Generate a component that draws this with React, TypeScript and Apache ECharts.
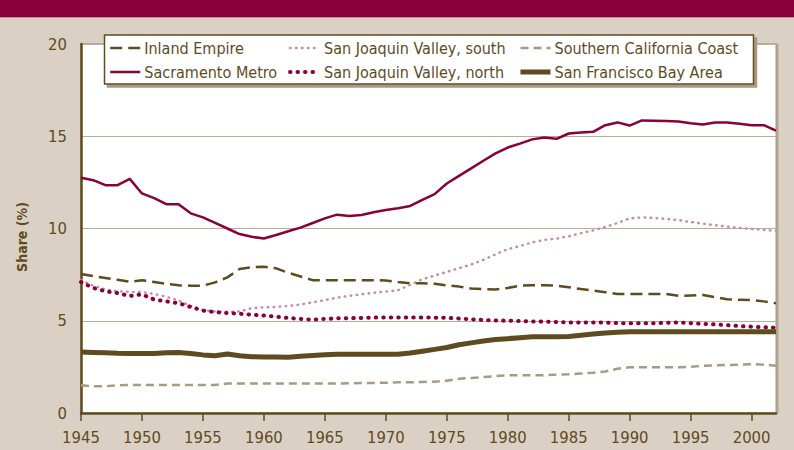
import React, { useEffect, useRef } from "react";
import * as echarts from "echarts";

const years: string[] = [];
for (let y = 1945; y <= 2002; y++) years.push(String(y));

const inlandEmpire = [7.53, 7.42, 7.32, 7.22, 7.11, 7.2, 7.1, 7.0, 6.92, 6.9, 6.9, 7.08, 7.35, 7.8, 7.9, 7.93, 7.84, 7.6, 7.4, 7.2, 7.2, 7.2, 7.2, 7.2, 7.2, 7.18, 7.1, 7.03, 7.03, 7.0, 6.92, 6.85, 6.75, 6.72, 6.7, 6.78, 6.9, 6.92, 6.93, 6.9, 6.82, 6.72, 6.63, 6.55, 6.45, 6.45, 6.45, 6.45, 6.45, 6.35, 6.37, 6.39, 6.28, 6.16, 6.14, 6.12, 6.05, 5.95];
const sacramento = [12.75, 12.62, 12.35, 12.35, 12.69, 11.9, 11.65, 11.32, 11.32, 10.82, 10.6, 10.3, 10.0, 9.7, 9.55, 9.46, 9.65, 9.85, 10.05, 10.3, 10.55, 10.75, 10.68, 10.73, 10.88, 11.0, 11.1, 11.22, 11.55, 11.86, 12.44, 12.85, 13.26, 13.67, 14.07, 14.39, 14.6, 14.83, 14.93, 14.86, 15.15, 15.2, 15.24, 15.6, 15.75, 15.58, 15.86, 15.84, 15.82, 15.8, 15.7, 15.64, 15.75, 15.75, 15.68, 15.6, 15.6, 15.3];
const sjvSouth = [7.2, 6.9, 6.7, 6.6, 6.57, 6.55, 6.45, 6.3, 6.1, 5.8, 5.58, 5.5, 5.48, 5.5, 5.68, 5.73, 5.75, 5.8, 5.88, 6.0, 6.12, 6.25, 6.35, 6.43, 6.52, 6.58, 6.65, 6.95, 7.25, 7.45, 7.65, 7.85, 8.05, 8.3, 8.6, 8.88, 9.05, 9.25, 9.38, 9.45, 9.58, 9.75, 9.9, 10.08, 10.3, 10.55, 10.6, 10.57, 10.52, 10.45, 10.35, 10.26, 10.18, 10.1, 10.03, 9.97, 9.92, 9.88];
const sjvNorth = [7.1, 6.78, 6.6, 6.5, 6.34, 6.43, 6.15, 6.05, 5.95, 5.75, 5.55, 5.47, 5.42, 5.38, 5.33, 5.28, 5.22, 5.15, 5.1, 5.06, 5.1, 5.13, 5.14, 5.15, 5.17, 5.18, 5.18, 5.18, 5.17, 5.17, 5.16, 5.12, 5.08, 5.04, 5.02, 5.0, 4.99, 4.96, 4.95, 4.93, 4.91, 4.9, 4.9, 4.9, 4.88, 4.86, 4.86, 4.87, 4.89, 4.91, 4.87, 4.83, 4.8, 4.76, 4.71, 4.68, 4.65, 4.62];
const soCalCoast = [1.5, 1.45, 1.45, 1.5, 1.52, 1.52, 1.52, 1.52, 1.52, 1.52, 1.52, 1.52, 1.6, 1.6, 1.6, 1.6, 1.6, 1.6, 1.6, 1.6, 1.6, 1.6, 1.61, 1.62, 1.63, 1.64, 1.66, 1.67, 1.68, 1.7, 1.75, 1.85, 1.9, 1.95, 2.0, 2.04, 2.04, 2.04, 2.04, 2.08, 2.1, 2.14, 2.18, 2.25, 2.4, 2.48, 2.48, 2.48, 2.48, 2.48, 2.5, 2.56, 2.58, 2.6, 2.62, 2.65, 2.62, 2.56];
const sfBayArea = [3.3, 3.28, 3.26, 3.24, 3.23, 3.22, 3.22, 3.27, 3.28, 3.22, 3.15, 3.1, 3.2, 3.1, 3.05, 3.04, 3.03, 3.02, 3.08, 3.12, 3.16, 3.18, 3.18, 3.18, 3.18, 3.18, 3.18, 3.25, 3.35, 3.45, 3.55, 3.7, 3.8, 3.9, 3.98, 4.03, 4.08, 4.13, 4.13, 4.13, 4.15, 4.22, 4.28, 4.33, 4.38, 4.4, 4.4, 4.4, 4.4, 4.4, 4.4, 4.4, 4.4, 4.4, 4.4, 4.4, 4.4, 4.4];

const yTicks = [0, 5, 10, 15, 20];

const BROWN = "#5e4b1f";
const CRIMSON = "#8a0039";
const PINK = "#c98aa0";
const TAN = "#a99b82";
const GRIDC = "#bcae94";
const BG = "#dad1c4";
const FONT = "'Liberation Sans Narrow', 'DejaVu Sans Condensed', 'Roboto', sans-serif";

export default function App() {
  const ref = useRef<HTMLDivElement>(null);
  useEffect(() => {
    if (!ref.current) return;
    const chart = echarts.init(ref.current, null, { renderer: "svg" });
    const legendBase = {
      orient: "vertical",
      top: 39,
      padding: 0,
      itemWidth: 30,
      itemHeight: 14,
      itemGap: 6,
      itemStyle: { color: "rgba(0,0,0,0)", borderColor: "rgba(0,0,0,0)", borderWidth: 0 },
      lineStyle: { width: "inherit" },
      textStyle: { color: BROWN, fontSize: 16, fontFamily: FONT, lineHeight: 18, padding: [0, 0, 0, -1] },
      z: 10,
    };
    chart.setOption({
      animation: false,
      backgroundColor: BG,
      textStyle: { fontFamily: FONT },
      grid: {
        left: 81,
        right: 18,
        top: 44,
        bottom: 37,
        show: true,
        backgroundColor: "#ffffff",
        borderColor: TAN,
        borderWidth: 1,
        shadowColor: "rgba(150,135,110,0.6)",
        shadowOffsetX: 2,
        shadowOffsetY: 0,
        shadowBlur: 0,
      },
      legend: [
        { ...legendBase, left: 109, data: ["Inland Empire", "Sacramento Metro"] },
        { ...legendBase, left: 288, data: ["San Joaquin Valley, south", "San Joaquin Valley, north"] },
        { ...legendBase, left: 518, data: ["Southern California Coast", "San Francisco Bay Area"] },
      ],
      xAxis: {
        type: "category",
        data: years,
        boundaryGap: false,
        axisLine: { lineStyle: { color: BROWN, width: 2.5 } },
        axisTick: { show: true, interval: 4, length: 8, lineStyle: { color: BROWN, width: 1.5 } },
        axisLabel: { interval: 4, color: BROWN, fontSize: 16.5, fontFamily: FONT, margin: 16 },
        splitLine: { show: false },
      },
      yAxis: {
        type: "value",
        min: yTicks[0],
        max: yTicks[yTicks.length - 1],
        interval: 5,
        axisLine: { show: true, lineStyle: { color: BROWN, width: 2.5 } },
        axisTick: { show: false },
        axisLabel: { color: BROWN, fontSize: 16.5, fontFamily: FONT, margin: 14 },
        splitLine: { show: true, lineStyle: { color: GRIDC, width: 1 } },
      },
      graphic: [
        { type: "rect", shape: { x: 0, y: 0, width: 794, height: 17 }, style: { fill: "#880038" }, z: 1 },
        { type: "rect", shape: { x: 0, y: 17, width: 794, height: 1 }, style: { fill: "#c88a9c" }, z: 1 },
        {
          type: "rect",
          shape: { x: 104.5, y: 35, width: 649, height: 49 },
          style: {
            fill: "#ffffff",
            stroke: BROWN,
            lineWidth: 1.5,
            shadowColor: "#a89a80",
            shadowOffsetX: 3,
            shadowOffsetY: 3,
            shadowBlur: 0,
          },
          z: 5,
        },
        {
          type: "text",
          x: 22,
          y: 237,
          rotation: Math.PI / 2,
          style: {
            text: "Share (%)",
            fill: BROWN,
            font: `bold 14px ${FONT}`,
            textAlign: "center",
            textVerticalAlign: "middle",
          },
          z: 5,
        },
      ],
      series: [
        {
          name: "Inland Empire",
          type: "line",
          data: inlandEmpire,
          symbol: "none",
          color: BROWN,
          lineStyle: { color: BROWN, width: 2.5, type: [12, 6] },
          z: 3,
        },
        {
          name: "Sacramento Metro",
          type: "line",
          data: sacramento,
          symbol: "none",
          color: CRIMSON,
          lineStyle: { color: CRIMSON, width: 2.5, type: "solid" },
          z: 3,
        },
        {
          name: "San Joaquin Valley, south",
          type: "line",
          data: sjvSouth,
          symbol: "none",
          color: PINK,
          lineStyle: { color: PINK, width: 2.5, type: [0.5, 5.5], cap: "round" },
          z: 3,
        },
        {
          name: "San Joaquin Valley, north",
          type: "line",
          data: sjvNorth,
          symbol: "none",
          color: CRIMSON,
          lineStyle: { color: CRIMSON, width: 4, type: [0.5, 7], cap: "round" },
          z: 3,
        },
        {
          name: "Southern California Coast",
          type: "line",
          data: soCalCoast,
          symbol: "none",
          color: TAN,
          lineStyle: { color: TAN, width: 2.5, type: [8, 5] },
          z: 3,
        },
        {
          name: "San Francisco Bay Area",
          type: "line",
          data: sfBayArea,
          symbol: "none",
          color: BROWN,
          lineStyle: { color: BROWN, width: 5, type: "solid" },
          z: 3,
        },
      ],
    });
    return () => chart.dispose();
  }, []);
  return (
    <div
      ref={ref}
      style={{ position: "fixed", left: 0, top: 0, width: 794, height: 450 }}
    />
  );
}
